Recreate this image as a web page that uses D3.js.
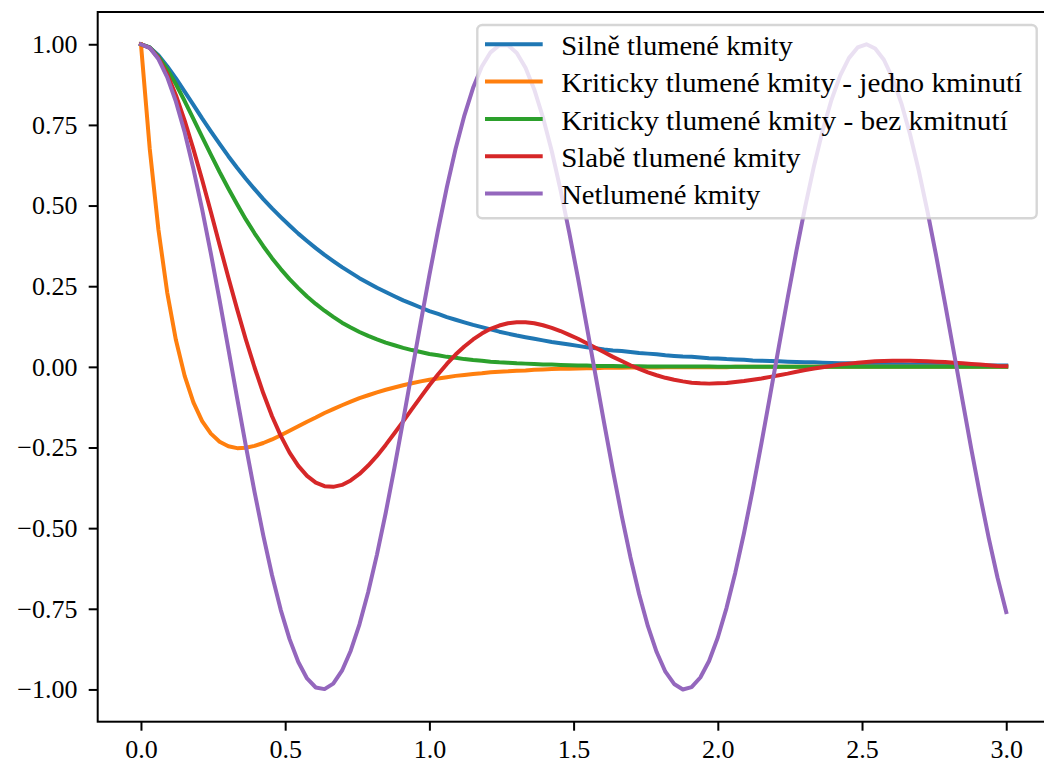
<!DOCTYPE html>
<html><head><meta charset="utf-8">
<script src="https://cdn.jsdelivr.net/npm/d3@7"></script>
<style>
html,body{margin:0;padding:0;background:#fff;}
svg{display:block;}
text{font-family:"Liberation Serif","DejaVu Serif",serif;fill:#000;}
</style>
</head><body>
<svg id="chart" width="1044" height="764"></svg>
<script>
// ---- data ----
const time = [0,0.0303,0.0606,0.0909,0.1212,0.1515,0.1818,0.2121,0.2424,0.2727,
0.3030,0.3333,0.3636,0.3939,0.4242,0.4545,0.4848,0.5152,0.5455,0.5758,
0.6061,0.6364,0.6667,0.6970,0.7273,0.7576,0.7879,0.8182,0.8485,0.8788,
0.9091,0.9394,0.9697,1.0000,1.0303,1.0606,1.0909,1.1212,1.1515,1.1818,
1.2121,1.2424,1.2727,1.3030,1.3333,1.3636,1.3939,1.4242,1.4545,1.4848,
1.5152,1.5455,1.5758,1.6061,1.6364,1.6667,1.6970,1.7273,1.7576,1.7879,
1.8182,1.8485,1.8788,1.9091,1.9394,1.9697,2.0000,2.0303,2.0606,2.0909,
2.1212,2.1515,2.1818,2.2121,2.2424,2.2727,2.3030,2.3333,2.3636,2.3939,
2.4242,2.4545,2.4848,2.5152,2.5455,2.5758,2.6061,2.6364,2.6667,2.6970,
2.7273,2.7576,2.7879,2.8182,2.8485,2.8788,2.9091,2.9394,2.9697,3.0000];

const silne = [1.000,0.990,0.966,0.932,0.894,0.853,0.812,0.770,0.730,0.691,
0.653,0.617,0.583,0.551,0.520,0.491,0.464,0.438,0.413,0.390,
0.368,0.347,0.328,0.309,0.292,0.275,0.260,0.245,0.232,0.219,
0.206,0.195,0.184,0.173,0.164,0.154,0.146,0.138,0.130,0.123,
0.116,0.109,0.103,0.097,0.092,0.087,0.082,0.077,0.073,0.069,
0.065,0.061,0.058,0.054,0.051,0.049,0.046,0.043,0.041,0.039,
0.036,0.034,0.032,0.031,0.029,0.027,0.026,0.024,0.023,0.022,
0.020,0.019,0.018,0.017,0.016,0.015,0.014,0.014,0.013,0.012,
0.011,0.011,0.010,0.010,0.009,0.009,0.008,0.008,0.007,0.007,
0.006,0.006,0.006,0.005,0.005,0.005,0.005,0.004,0.004,0.004];

const kritJedno = [1.000,0.677,0.425,0.231,0.083,-0.028,-0.110,-0.168,-0.207,-0.232,
-0.246,-0.252,-0.251,-0.245,-0.236,-0.225,-0.212,-0.198,-0.184,-0.170,
-0.157,-0.143,-0.131,-0.119,-0.108,-0.097,-0.088,-0.079,-0.071,-0.064,
-0.057,-0.051,-0.045,-0.040,-0.036,-0.032,-0.028,-0.025,-0.022,-0.020,
-0.017,-0.015,-0.014,-0.012,-0.011,-0.009,-0.008,-0.007,-0.006,-0.006,
-0.005,-0.004,-0.004,-0.003,-0.003,-0.003,-0.002,-0.002,-0.002,-0.002,
-0.001,-0.001,-0.001,-0.001,-0.001,-0.001,-0.001,-0.001,0,0,
0,0,0,0,0,0,0,0,0,0,
0,0,0,0,0,0,0,0,0,0,
0,0,0,0,0,0,0,0,0,0];

const kritBez = [1.000,0.990,0.962,0.923,0.876,0.824,0.769,0.713,0.658,0.604,
0.553,0.504,0.457,0.414,0.374,0.337,0.303,0.272,0.244,0.218,
0.195,0.174,0.155,0.137,0.122,0.108,0.096,0.085,0.075,0.067,
0.059,0.052,0.046,0.040,0.036,0.031,0.028,0.024,0.021,0.019,
0.016,0.014,0.013,0.011,0.010,0.009,0.007,0.007,0.006,0.005,
0.004,0.004,0.003,0.003,0.003,0.002,0.002,0.002,0.001,0.001,
0.001,0.001,0.001,0.001,0.001,0.001,0,0,0,0,
0,0,0,0,0,0,0,0,0,0,
0,0,0,0,0,0,0,0,0,0,
0,0,0,0,0,0,0,0,0,0];

const slabe = [1.000,0.989,0.957,0.907,0.842,0.763,0.675,0.580,0.480,0.378,
0.277,0.179,0.085,-0.002,-0.082,-0.153,-0.214,-0.266,-0.307,-0.338,
-0.359,-0.370,-0.372,-0.366,-0.352,-0.332,-0.306,-0.276,-0.242,-0.206,
-0.169,-0.131,-0.094,-0.057,-0.023,0.009,0.038,0.063,0.085,0.103,
0.118,0.128,0.135,0.138,0.138,0.135,0.129,0.121,0.111,0.099,
0.087,0.073,0.059,0.045,0.031,0.018,0.005,-0.006,-0.017,-0.026,
-0.034,-0.040,-0.045,-0.049,-0.051,-0.052,-0.051,-0.050,-0.047,-0.044,
-0.040,-0.036,-0.031,-0.026,-0.021,-0.015,-0.010,-0.005,-0.001,0.003,
0.007,0.010,0.013,0.015,0.017,0.018,0.019,0.019,0.019,0.018,
0.017,0.016,0.015,0.013,0.011,0.009,0.007,0.005,0.003,0.002];

const netlumene = [1.000,0.989,0.954,0.898,0.822,0.727,0.614,0.488,0.351,0.206,
0.056,-0.096,-0.245,-0.388,-0.523,-0.646,-0.754,-0.844,-0.915,-0.966,
-0.994,-0.999,-0.982,-0.942,-0.880,-0.798,-0.698,-0.582,-0.453,-0.313,
-0.166,-0.015,0.136,0.284,0.425,0.557,0.676,0.779,0.865,0.931,
0.975,0.997,0.997,0.973,0.927,0.860,0.773,0.669,0.549,0.417,
0.275,0.126,-0.025,-0.175,-0.322,-0.461,-0.590,-0.705,-0.804,-0.884,
-0.945,-0.983,-1.000,-0.993,-0.963,-0.912,-0.839,-0.747,-0.638,-0.515,
-0.380,-0.236,-0.086,0.065,0.215,0.360,0.497,0.622,0.733,0.827,
0.903,0.957,0.990,1.000,0.987,0.952,0.894,0.817,0.720,0.607,
0.480,0.342,0.196,0.046,-0.105,-0.254,-0.397,-0.531,-0.653,-0.760];

const seriesLabels = ["Silně tlumené kmity",
  "Kriticky tlumené kmity - jedno kminutí",
  "Kriticky tlumené kmity - bez kmitnutí",
  "Slabě tlumené kmity",
  "Netlumené kmity"];
const seriesColors = ["#1f77b4","#ff7f0e","#2ca02c","#d62728","#9467bd"];
const xTickValues = [0, 0.5, 1.0, 1.5, 2.0, 2.5, 3.0];
const yTickValues = [-1.0, -0.75, -0.5, -0.25, 0, 0.25, 0.5, 0.75, 1.0];
// measured widths of the legend labels in the reference (px), to mimic its wider typeface
const labelWidths = [231.6, 461, 446.6, 239.3, 199];

// ---- layout ----
const plot = {left: 97.7, right: 1049.5, top: 12, bottom: 721.7};
const svg = d3.select("#chart");

const x = d3.scaleLinear().domain([-0.15, 3.15]).range([plot.left, plot.right]);
const y = d3.scaleLinear().domain([-1.1, 1.1]).range([plot.bottom, plot.top]);

svg.append("defs").append("clipPath").attr("id","plotclip")
  .append("rect").attr("x",plot.left).attr("y",plot.top)
  .attr("width",plot.right-plot.left).attr("height",plot.bottom-plot.top);

const allSeries = [silne, kritJedno, kritBez, slabe, netlumene];
const line = d3.line().x((d,i)=>x(time[i])).y(d=>y(d));

const lines = svg.append("g").attr("clip-path","url(#plotclip)");
allSeries.forEach((s,k)=>{
  lines.append("path").datum(s).attr("d", line)
    .attr("fill","none").attr("stroke", seriesColors[k])
    .attr("stroke-width", 4).attr("stroke-linejoin","round").attr("stroke-linecap","square");
});

// axes
const xAxis = d3.axisBottom(x).tickValues(xTickValues).tickFormat(d3.format(".1f"))
  .tickSize(9).tickPadding(8.8);
const gx = svg.append("g").attr("transform",`translate(0,${plot.bottom})`).call(xAxis);
const yAxis = d3.axisLeft(y).tickValues(yTickValues).tickFormat(d3.format(".2f"))
  .tickSize(9).tickPadding(11.2);
const gy = svg.append("g").attr("transform",`translate(${plot.left},0)`).call(yAxis);
[gx,gy].forEach(g=>{
  g.select(".domain").remove();
  g.selectAll(".tick line").attr("stroke","#000").attr("stroke-width",2);
  g.selectAll(".tick text").attr("font-size",26).attr("font-family",'"Liberation Serif",serif').attr("fill","#000");
});

// spines
svg.append("rect").attr("x",plot.left).attr("y",plot.top)
  .attr("width",plot.right-plot.left).attr("height",plot.bottom-plot.top)
  .attr("fill","none").attr("stroke","#000").attr("stroke-width",2);

// legend
const lg = svg.append("g");
lg.append("rect").attr("x",477.3).attr("y",25).attr("width",559.4).attr("height",193.3)
  .attr("rx",5).attr("ry",5)
  .attr("fill","#fff").attr("fill-opacity",0.8)
  .attr("stroke","#cccccc").attr("stroke-opacity",0.8).attr("stroke-width",2.4);
seriesLabels.forEach((lab,k)=>{
  const cy = 44.3 + k*37.3;
  lg.append("line").attr("x1",485).attr("x2",542.7).attr("y1",cy).attr("y2",cy)
    .attr("stroke",seriesColors[k]).attr("stroke-width",4).attr("stroke-linecap","butt");
  lg.append("text").attr("x",561.2).attr("y",cy+10.6).attr("font-size",27)
    .attr("textLength",labelWidths[k]).attr("lengthAdjust","spacingAndGlyphs").text(lab);
});
</script>
</body></html>
